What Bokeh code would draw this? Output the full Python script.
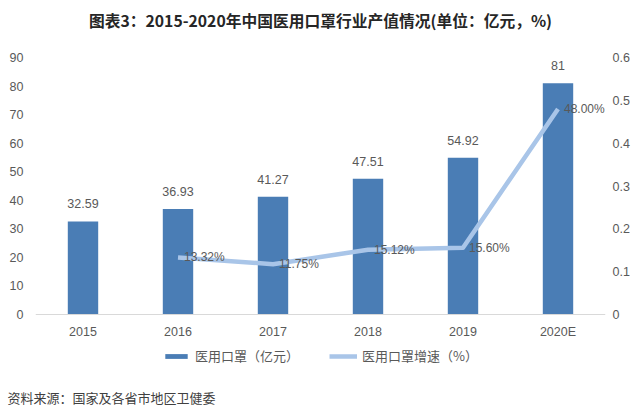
from bokeh.plotting import figure
from bokeh.models import (Range1d, LinearAxis, FixedTicker, CustomJSTickFormatter,
                          Legend, LegendItem, Title, Label, LabelSet, ColumnDataSource)
from bokeh.core.properties import value
from bokeh.embed import file_html
from bokeh.resources import INLINE

years = ["2015", "2016", "2017", "2018", "2019", "2020E"]
output = [32.59, 36.93, 41.27, 47.51, 54.92, 81]
output_labels = ["32.59", "36.93", "41.27", "47.51", "54.92", "81"]
growth_years = ["2016", "2017", "2018", "2019", "2020E"]
growth = [0.1332, 0.1175, 0.1512, 0.1560, 0.48]
growth_labels = ["13.32%", "11.75%", "15.12%", "15.60%", "48.00%"]
left_ticks = [0, 10, 20, 30, 40, 50, 60, 70, 80, 90]
right_ticks = [0, 0.1, 0.2, 0.3, 0.4, 0.5, 0.6]

title_text = "图表3：2015-2020年中国医用口罩行业产值情况(单位：亿元，%)"
source_text = "资料来源：国家及各省市地区卫健委"
bar_name = "医用口罩（亿元）"
line_name = "医用口罩增速（%）"

BAR = "#4a7db5"
LINE = "#a9c5e8"
GREY = "#595959"
NUM_FONT = "Liberation Sans"
CJK = "Noto Sans CJK SC"

# frame spans canvas px 0..376; value 90 sits at px 57, value 0 at px 314
LEFT_MAX, RIGHT_MAX = 90, 0.6
FRAME_TOP, FRAME_BOTTOM, TOP_PX, ZERO_PX = 0, 376, 57, 314
hi = (ZERO_PX - FRAME_TOP) / (ZERO_PX - TOP_PX)
lo = -(FRAME_BOTTOM - ZERO_PX) / (ZERO_PX - TOP_PX)
p = figure(width=640, height=418, x_range=years,
           y_range=Range1d(LEFT_MAX * lo, LEFT_MAX * hi),
           output_backend="svg", toolbar_location=None,
           min_border_left=35, min_border_right=35, min_border_top=0, min_border_bottom=42)
p.extra_y_ranges = {"rate": Range1d(RIGHT_MAX * lo, RIGHT_MAX * hi)}
p.outline_line_color = None
p.xgrid.grid_line_color = None
p.ygrid.grid_line_color = None

bar_src = ColumnDataSource(dict(x=years, top=output, lab=output_labels))
bars = p.vbar(x="x", top="top", bottom=0, width=0.32, source=bar_src, fill_color=BAR, line_color=None)
p.text(x="x", y="top", text="lab", source=bar_src, text_align="center", text_baseline="bottom",
       y_offset=-13, text_font=value(NUM_FONT), text_font_size="12.5px", text_color=GREY)

line_src = ColumnDataSource(dict(x=growth_years, y=growth, lab=growth_labels))
ln = p.line(x="x", y="y", source=line_src, y_range_name="rate", line_color=LINE, line_width=4.5,
            line_join="round")
p.add_layout(LabelSet(x="x", y="y", text="lab", source=line_src, y_range_name="rate",
                      text_align="left", text_baseline="middle", x_offset=6, y_offset=0,
                      text_font=value(NUM_FONT), text_font_size=value("12px"),
                      text_color=value(GREY)))

# axes
xa = p.xaxis[0]
xa.fixed_location = 0
xa.axis_line_color = "#d9d9d9"
xa.major_tick_line_color = None
xa.minor_tick_line_color = None
xa.major_tick_out = 0
xa.major_label_standoff = 10
xa.major_label_text_font = NUM_FONT
xa.major_label_text_font_size = "12.5px"
xa.major_label_text_color = GREY

ya = p.yaxis[0]
ya.ticker = FixedTicker(ticks=left_ticks)
ya.axis_line_color = None
ya.major_tick_line_color = None
ya.minor_tick_line_color = None
ya.major_tick_out = 0
ya.major_label_standoff = 12
ya.major_label_text_font = NUM_FONT
ya.major_label_text_font_size = "12.5px"
ya.major_label_text_color = GREY

ra = LinearAxis(y_range_name="rate", ticker=FixedTicker(ticks=right_ticks),
                formatter=CustomJSTickFormatter(code="return tick == 0 ? '0' : tick.toFixed(1);"))
ra.axis_line_color = None
ra.major_tick_line_color = None
ra.minor_tick_line_color = None
ra.major_tick_out = 0
ra.major_label_standoff = 7
ra.major_label_text_font = NUM_FONT
ra.major_label_text_font_size = "12.5px"
ra.major_label_text_color = GREY
p.add_layout(ra, "right")

legend = Legend(items=[LegendItem(label=bar_name, renderers=[bars]),
                       LegendItem(label=line_name, renderers=[ln])],
                orientation="horizontal", location=(127, 11),
                glyph_width=28, glyph_height=6, label_standoff=5, spacing=30,
                padding=0, margin=0, border_line_color=None, background_fill_alpha=0,
                label_text_font=CJK, label_text_font_size="13px", label_text_color=GREY,
                label_height=16)
p.add_layout(legend, "center")

p.add_layout(Label(x=285, y=FRAME_BOTTOM - 20, x_units="screen", y_units="screen", text=title_text,
                   text_align="center", text_baseline="middle", text_font=CJK,
                   text_font_size="15.75px", text_font_style="bold", text_color="#262626"))
p.add_layout(Title(text=source_text, align="left", text_font=CJK, text_font_size="13px",
                   text_font_style="normal", text_color="#404040", offset=-28, standoff=18), "below")

open("out.html", "w").write(file_html(p, INLINE))
